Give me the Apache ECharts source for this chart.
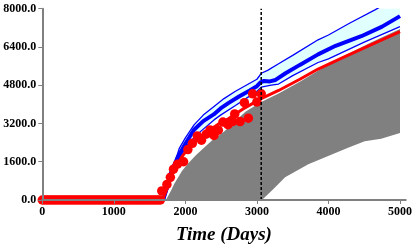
<!DOCTYPE html>
<html>
<head>
<meta charset="utf-8">
<script src="https://cdn.jsdelivr.net/npm/echarts@6/dist/echarts.min.js"></script>
<style>html,body{margin:0;padding:0;background:#fff;}#c{width:415px;height:250px;}</style>
</head>
<body>
<div id="c"></div>
<script>
// x ticks / y ticks
const xTicks = [0, 1000, 2000, 3000, 4000, 5000];
const yTicks = [0, 1600, 3200, 4800, 6400, 8000];
const historyEnd = 3060;

// observed data [day, value]
const obsZeroDays = [0,30,60,90,120,150,180,210,240,270,300,330,360,390,420,450,480,510,540,570,600,630,660,690,720,750,780,810,840,870,900,930,960,990,1020,1050,1080,1110,1140,1170,1200,1230,1260,1290,1320,1350,1380,1410,1440,1470,1500,1530,1560,1590,1620,1650];
const obsRise = [[1670,380],[1742,650],[1790,950],[1834,1290],[1889,1495],[1975,1600],[2035,2110],[2098,2370],[2167,2680],[2225,2500],[2290,2750],[2345,2930],[2400,2700],[2460,2920],[2525,3260],[2595,3150],[2660,3280],[2690,3600],[2765,3280],[2825,4070],[2880,3420],[2940,4440],[3000,4100],[3060,4440]];

// simulated curves [day, value]
const baseCase = [[0,0],[1680,0],[1720,300],[1780,750],[1843,1250],[1950,1800],[2050,2200],[2167,2520],[2300,2850],[2450,3150],[2600,3400],[2800,3800],[3060,4240],[3303,4580],[3600,5050],[3855,5476],[4200,5950],[4600,6500],[5000,7040]];
const meanCurve = [[1690,0],[1750,600],[1800,1150],[1889,1770],[2000,2350],[2121,2935],[2250,3300],[2396,3580],[2492,3830],[2600,4050],[2750,4330],[2900,4580],[3000,4760],[3050,4920],[3100,4980],[3180,4960],[3260,5020],[3400,5300],[3600,5650],[3855,6090],[4100,6450],[4459,6850],[4750,7250],[5000,7690]];
const upperCurve = [[1685,0],[1740,700],[1800,1250],[1850,1550],[1913,2150],[2000,2600],[2121,3140],[2250,3550],[2396,3900],[2540,4240],[2700,4550],[2850,4800],[3000,5050],[3061,5300],[3150,5420],[3303,5700],[3500,6050],[3855,6700],[4000,6900],[4300,7400],[4650,7950],[5000,8550]];
const lowerCurve = [[1700,0],[1760,500],[1850,1300],[1936,1840],[2050,2400],[2214,2870],[2400,3350],[2492,3550],[2700,3950],[2850,4250],[3000,4550],[3061,4720],[3200,4800],[3303,4850],[3500,5200],[3855,5750],[4000,5900],[4500,6600],[5000,7250]];
const grayTop = [[1728,0],[1800,400],[1843,670],[1950,1200],[2028,1495],[2150,1880],[2260,2180],[2375,2500],[2538,2850],[2700,3300],[2839,3690],[3060,4100],[3303,4450],[3600,4950],[3855,5400],[4200,6000],[4600,6600],[5000,7150]];
const grayBottom = [[1728,0],[3070,0],[3231,465],[3394,947],[3718,1495],[3996,1840],[4274,2182],[4506,2457],[4737,2565],[5000,2800]];

const obsData = obsZeroDays.map(d => [d, 0]).concat(obsRise);

function bandSeries(top, bottom, color) {
  const pts = top.concat(bottom.slice().reverse());
  return {
    type: 'custom', coordinateSystem: 'cartesian2d', silent: true, clip: true, z: 1,
    data: [[2500, 1000]],
    renderItem: function (params, api) {
      return { type: 'polygon', shape: { points: pts.map(p => api.coord(p)) }, style: { fill: color } };
    }
  };
}

const font = { fontFamily: 'Liberation Serif', fontWeight: 'bold', fontSize: 12, color: '#000' };
const chart = echarts.init(document.getElementById('c'));
chart.setOption({
  animation: false,
  backgroundColor: '#fff',
  grid: { left: 42.3, right: 6.9, top: 8.7, bottom: 47 },
  xAxis: {
    type: 'value', min: 0, max: 5080, interval: 1000, z: 10,
    name: 'Time (Days)', nameLocation: 'middle', nameGap: 26,
    nameTextStyle: { fontFamily: 'Liberation Serif', fontWeight: 'bold', fontStyle: 'italic', fontSize: 19, color: '#000' },
    axisLine: { lineStyle: { color: '#808080', width: 2 } },
    axisTick: { length: 4, lineStyle: { color: '#808080', width: 1 } },
    axisLabel: Object.assign({ margin: 6, showMaxLabel: false, formatter: v => xTicks.includes(v) ? String(v) : '' }, font),
    splitLine: { show: false }
  },
  yAxis: {
    type: 'value', min: 0, max: 8000, interval: 1600, z: 10,
    axisLine: { show: true, lineStyle: { color: '#808080', width: 2 } },
    axisTick: { show: true, length: 4, lineStyle: { color: '#808080', width: 1 } },
    axisLabel: Object.assign({ margin: 6, formatter: v => yTicks.includes(v) ? v.toFixed(1) : '' }, font),
    splitLine: { show: false }
  },
  series: [
    bandSeries(upperCurve, lowerCurve, '#E0FFFF'),
    bandSeries(grayTop, grayBottom, '#808080'),
    { type: 'line', data: upperCurve, symbol: 'none', z: 3, lineStyle: { color: '#0000FF', width: 1.3 } },
    { type: 'line', data: lowerCurve, symbol: 'none', z: 3, lineStyle: { color: '#0000FF', width: 1.3 } },
    { type: 'line', data: meanCurve, symbol: 'none', z: 4, lineStyle: { color: '#0000FF', width: 4 } },
    { type: 'line', data: baseCase, symbol: 'none', z: 4, lineStyle: { color: '#FF0000', width: 3 } },
    { type: 'scatter', data: obsData, symbol: 'circle', symbolSize: 9.5, z: 5, itemStyle: { color: '#FF0000', opacity: 1 } },
    { type: 'line', data: [[historyEnd, 0], [historyEnd, 8000]], symbol: 'none', z: 6, lineStyle: { color: '#000', width: 1.5, type: [3, 2] } }
  ]
});
</script>
</body>
</html>
